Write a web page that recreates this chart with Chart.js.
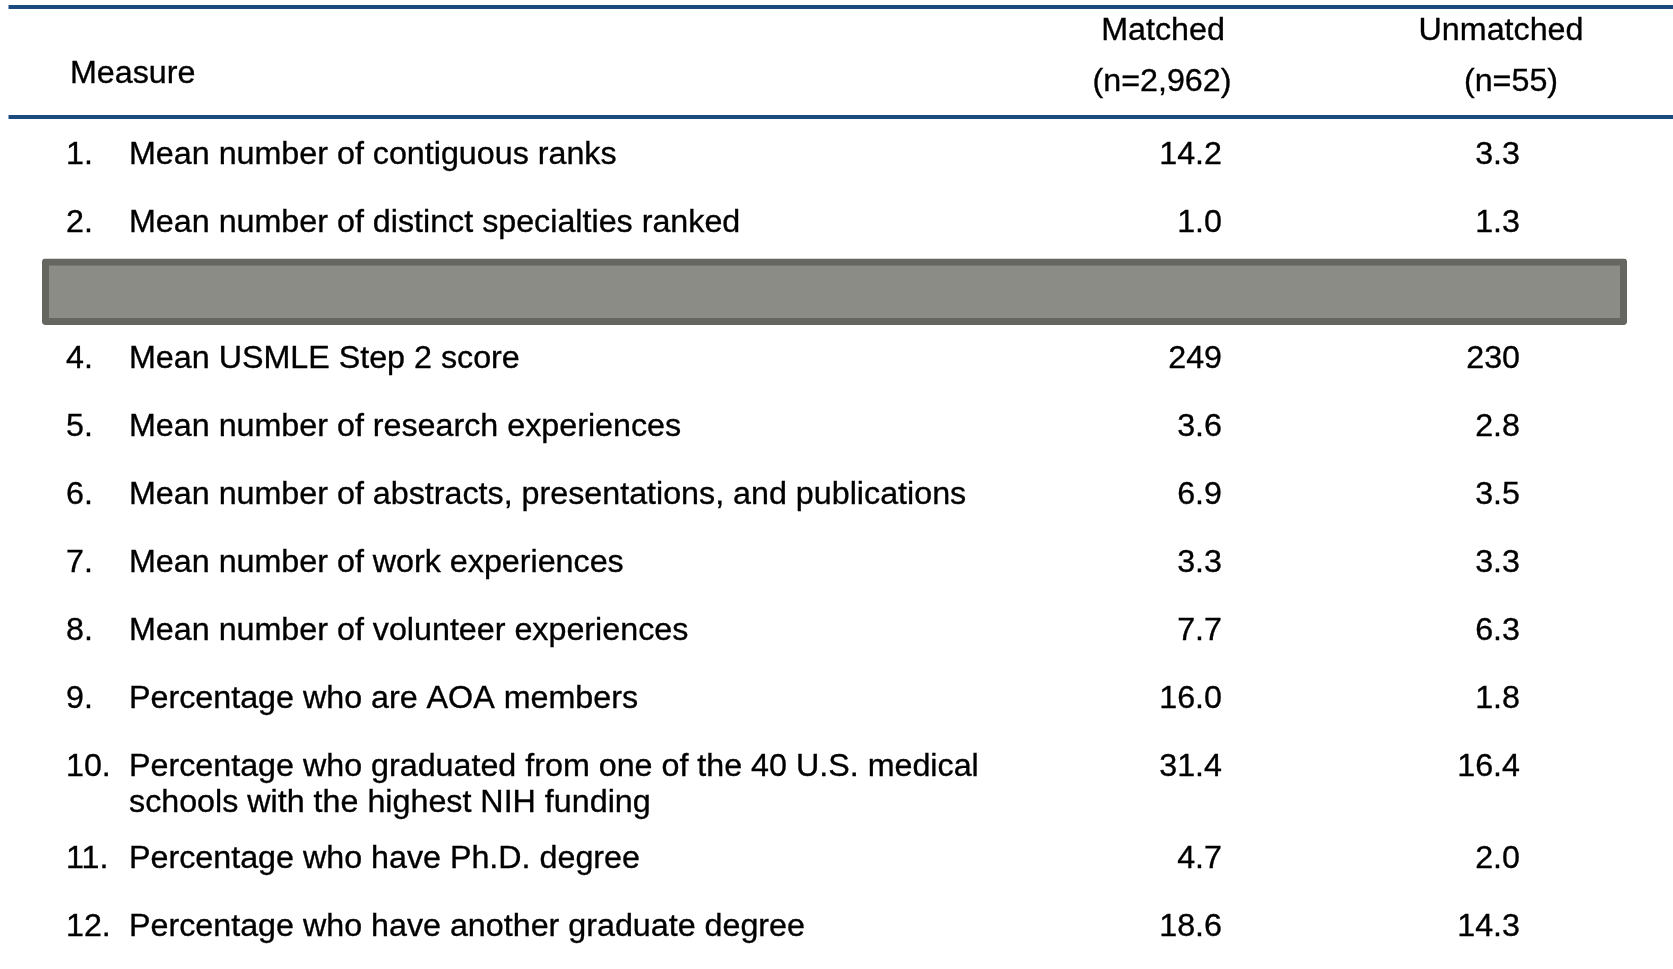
<!DOCTYPE html>
<html>
<head>
<meta charset="utf-8">
<script src="https://cdn.jsdelivr.net/npm/chart.js@4/dist/chart.umd.min.js"></script>
<style>
  html, body { margin: 0; padding: 0; background: #ffffff; }
  #wrap { width: 1673px; height: 969px; position: relative; }
</style>
</head>
<body>
<div id="wrap"><canvas id="c"></canvas></div>
<script>
// ---- Data ----
const rowNumbers = ['1.', '2.', '3.', '4.', '5.', '6.', '7.', '8.', '9.', '10.', '11.', '12.'];
const measures = [
  ['Mean number of contiguous ranks'],
  ['Mean number of distinct specialties ranked'],
  null, // row 3 is redacted (grey box)
  ['Mean USMLE Step 2 score'],
  ['Mean number of research experiences'],
  ['Mean number of abstracts, presentations, and publications'],
  ['Mean number of work experiences'],
  ['Mean number of volunteer experiences'],
  ['Percentage who are AOA members'],
  ['Percentage who graduated from one of the 40 U.S. medical', 'schools with the highest NIH funding'],
  ['Percentage who have Ph.D. degree'],
  ['Percentage who have another graduate degree']
];
const matched   = [14.2, 1.0, null, 249, 3.6, 6.9, 3.3, 7.7, 16.0, 31.4, 4.7, 18.6];
const unmatched = [3.3, 1.3, null, 230, 2.8, 3.5, 3.3, 6.3, 1.8, 16.4, 2.0, 14.3];
const decimals  = [1, 1, null, 0, 1, 1, 1, 1, 1, 1, 1, 1];
const headerMeasure   = ['Measure'];
const headerMatched   = ['Matched', '(n=2,962)'];
const headerUnmatched = ['Unmatched', '(n=55)'];
const redactedRows = [3];

// ---- Layout / style (not data) ----
const FONT = '32.25px "Liberation Sans", Arial, sans-serif';
const TEXT_COLOR = '#000000';
const RULE_COLOR = '#1b4a7c';
const TEXT_DY = 2.6;           // px, baseline correction
const EXTRA_LINE = 0.356;      // row units added per extra wrapped line
const SUBLINE = 0.53;          // row units between wrapped lines inside a cell
const colX = { number: 66, label: 129, matchedRight: 1222, unmatchedRight: 1520,
               measureHdr: 70, matchedHdr: [1163, 1162], unmatchedHdr: [1501, 1511],
               tableLeft: 8.5, tableRight: 1673, boxLeft: 42.3, boxRight: 1626.7 };
const hdrY = { measure: -0.19, lines: [-0.82, -0.068], topRule: -1.14, headRule: 0.476 };

// row positions on the y scale, derived from the number of text lines in each row
const rowPos = [];
(function () {
  let extra = 0;
  for (let i = 0; i < rowNumbers.length; i++) {
    rowPos.push(i + 1 + extra);
    const lines = measures[i] ? measures[i].length : 1;
    extra += (lines - 1) * EXTRA_LINE;
  }
})();

function fmt(v, d) { return v == null ? '' : v.toFixed(d); }

const tablePlugin = {
  id: 'tablePlugin',
  afterDatasetsDraw(chart) {
    const ctx = chart.ctx;
    const xs = chart.scales.x, ys = chart.scales.y;
    const X = v => xs.getPixelForValue(v);
    const Y = v => ys.getPixelForValue(v);
    const T = (t, x, y) => {
      ctx.fillText(t, x, y + TEXT_DY);
      ctx.strokeText(t, x, y + TEXT_DY);
    };
    ctx.save();
    // rules
    ctx.strokeStyle = RULE_COLOR;
    ctx.lineWidth = 4;
    [hdrY.topRule, hdrY.headRule].forEach(r => {
      ctx.beginPath();
      ctx.moveTo(X(colX.tableLeft), Y(r));
      ctx.lineTo(X(colX.tableRight), Y(r));
      ctx.stroke();
    });
    // header
    ctx.font = FONT;
    ctx.fillStyle = TEXT_COLOR;
    ctx.strokeStyle = TEXT_COLOR;
    ctx.lineWidth = 0.35;
    ctx.textBaseline = 'middle';
    ctx.textAlign = 'left';
    T(headerMeasure[0], X(colX.measureHdr), Y(hdrY.measure));
    ctx.textAlign = 'center';
    headerMatched.forEach((t, i) => T(t, X(colX.matchedHdr[i]), Y(hdrY.lines[i])));
    headerUnmatched.forEach((t, i) => T(t, X(colX.unmatchedHdr[i]), Y(hdrY.lines[i])));
    // body
    for (let i = 0; i < rowNumbers.length; i++) {
      if (!measures[i]) continue;
      const y = rowPos[i];
      ctx.textAlign = 'left';
      T(rowNumbers[i], X(colX.number), Y(y));
      measures[i].forEach((t, k) => T(t, X(colX.label), Y(y + k * SUBLINE)));
      ctx.textAlign = 'right';
      T(fmt(matched[i], decimals[i]), X(colX.matchedRight), Y(y));
      T(fmt(unmatched[i], decimals[i]), X(colX.unmatchedRight), Y(y));
    }
    ctx.restore();
  }
};

const redactBars = redactedRows.map(r => ({ x: [colX.boxLeft, colX.boxRight], y: rowPos[r - 1] + 0.046 }));

new Chart(document.getElementById('c'), {
  type: 'bar',
  data: {
    datasets: [{
      data: redactBars,
      backgroundColor: '#8b8c86',
      borderColor: '#656660',
      borderWidth: 7,
      borderRadius: 3,
      borderSkipped: false,
      barThickness: 66
    }]
  },
  options: {
    indexAxis: 'y',
    responsive: true,
    maintainAspectRatio: false,
    animation: false,
    layout: { padding: 0 },
    plugins: { legend: { display: false }, tooltip: { enabled: false } },
    scales: {
      x: { type: 'linear', display: false, offset: false, min: 0, max: 1673 },
      y: { type: 'linear', display: false, offset: false, reverse: true, min: -1.244, max: 13.006 }
    }
  },
  plugins: [tablePlugin]
});
</script>
</body>
</html>
